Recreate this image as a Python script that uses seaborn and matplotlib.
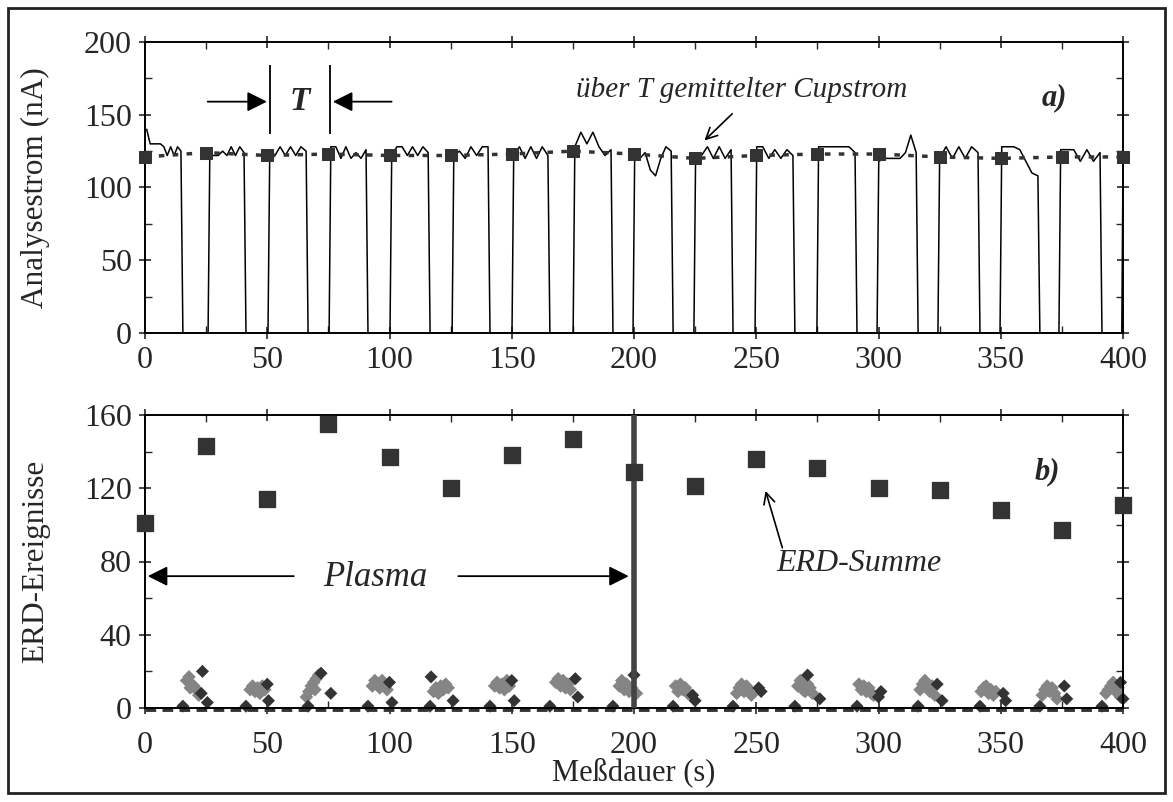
import numpy as np
import pandas as pd
import matplotlib
matplotlib.use('Agg')
import matplotlib.pyplot as plt
from matplotlib.patches import Rectangle
from matplotlib.ticker import MultipleLocator
import seaborn as sns

# --- panel a): cup current, beam on / off every T = 25 s ---
rise_t = [0.0, 25.8, 50.3, 75.3, 100.2, 125.6, 150.1, 175.1, 199.6, 224.5,
          249.5, 274.8, 299.4, 324.3, 349.7, 373.8, 399.5]
fall_t = [15.5, 41.3, 66.7, 91.2, 116.6, 141.1, 165.6, 191.4, 216.0, 240.5,
          265.8, 291.2, 316.2, 341.5, 366.0, 391.4]
plateaus = [
    [140, 130, 130, 130, 130, 128, 122, 128, 122, 128, 125],
    [122, 122, 122, 125, 122, 128, 122, 128, 124],
    [120, 122, 128, 122, 128, 122, 128, 125],
    [128, 128, 120, 128, 120, 124, 120, 126],
    [122, 128, 128, 122, 128, 122, 128, 124],
    [122, 125, 120, 128, 122, 128, 128],
    [122, 128, 120, 128, 120, 128, 122],
    [128, 138, 130, 138, 128, 122, 126],
    [126, 120, 124, 112, 108, 120, 128, 125],
    [122, 122, 128, 120, 128, 120, 126],
    [128, 128, 120, 126, 120, 126, 122],
    [128, 128, 128, 128, 128, 128, 124],
    [118, 120, 120, 120, 120, 124, 136, 124],
    [120, 128, 120, 128, 120, 128, 124],
    [128, 128, 128, 126, 118, 110, 108],
    [126, 126, 126, 118, 126, 118, 124],
]
avg_t = [0, 25, 50, 75, 100, 125, 150, 175, 200, 225, 250, 275, 300, 325, 350, 375, 400]
avg_cup = [121, 124, 122, 123, 122, 122, 123, 125, 123, 120, 122, 123, 123, 121, 120, 121, 121]

# --- panel b): ERD events ---
erd_sum = [101, 143, 114, 155, 137, 120, 138, 147, 129, 121, 136, 131, 120, 119, 108, 97, 111]
grey_t = [17, 18, 19, 20, 21, 22, 18.5,
          43, 44, 45, 46, 47, 48, 49,
          66, 67, 68, 69, 70, 71, 69.5,
          93, 94, 95, 96, 97, 98, 99,
          118, 119, 120, 121, 122, 123, 124,
          143, 144, 145, 146, 147, 148, 149,
          168, 169, 170, 171, 172, 173, 174,
          194, 195, 196, 197, 198, 199, 201,
          217, 218, 219, 220, 221, 222, 223,
          242, 243, 244, 245, 246, 247, 248,
          267, 268, 269, 270, 271, 272, 273,
          292, 293, 294, 295, 296, 297, 298,
          317, 318, 319, 320, 321, 322, 323,
          342, 343, 344, 345, 346, 347, 348,
          367, 368, 369, 370, 371, 372, 373,
          393, 394, 395, 396, 397, 398, 399]
grey_n = [15, 17, 13, 12, 10, 7, 11,
          10, 12, 9, 11, 8, 12, 10,
          6, 9, 12, 14, 16, 18, 10,
          12, 15, 13, 11, 15, 12, 10,
          9, 11, 8, 12, 10, 13, 11,
          12, 14, 11, 13, 10, 15, 12,
          14, 16, 12, 15, 11, 13, 10,
          12, 15, 10, 13, 9, 11, 8,
          12, 9, 13, 10, 11, 8, 7,
          8, 11, 13, 9, 12, 10, 7,
          12, 15, 10, 9, 13, 11, 8,
          13, 10, 12, 9, 11, 8, 7,
          10, 13, 15, 11, 9, 12, 7,
          9, 11, 12, 8, 10, 7, 9,
          7, 10, 12, 9, 11, 8, 5,
          8, 10, 12, 14, 9, 11, 6]
dark_t = [23.5, 23, 25.5, 50, 50.5, 72, 76, 100, 101, 117, 126, 150, 151,
          176, 177, 200, 224, 225, 251, 252, 271, 276, 301, 300, 324, 326,
          351, 352, 376, 377, 399, 400]
dark_n = [20, 8, 3, 13, 4, 19, 8, 14, 3, 17, 4, 15, 4,
          16, 6, 18, 7, 4, 11, 9, 18, 5, 9, 6, 13, 4,
          8, 4, 12, 5, 14, 5]
zero_n = [1] * len(fall_t)

# build the cup current trace from the on/off edges and plateau readings
trace_t, trace_i = [], []
for k, lev in enumerate(plateaus):
    r, f = rise_t[k], fall_t[k]
    if k > 0:
        trace_t.append(r)
        trace_i.append(0)
    trace_t += list(np.linspace(r + 0.7, f - 0.8, len(lev)))
    trace_i += lev
    trace_t.append(f)
    trace_i.append(0)
trace_t += [rise_t[-1], 400]
trace_i += [0, 118]
trace = pd.DataFrame({'t': trace_t, 'I': trace_i})

sns.set_style('ticks')
plt.rcParams['font.family'] = ['Liberation Serif', 'DejaVu Serif']
plt.rcParams['mathtext.fontset'] = 'stix'

fig = plt.figure(figsize=(11.73, 8.02), dpi=100)
ax1 = fig.add_axes([145 / 1173, 1 - 333 / 802, 978 / 1173, 291 / 802])
ax2 = fig.add_axes([145 / 1173, 1 - 708 / 802, 978 / 1173, 293 / 802])

dark = '#333333'

# panel a
sns.lineplot(data=trace, x='t', y='I', ax=ax1, color='black', lw=1.1,
             sort=False, estimator=None)
sns.lineplot(x=avg_t, y=avg_cup, ax=ax1, color=dark, lw=2.5,
             linestyle=(0, (1.6, 2.4)), marker='s', markersize=9,
             markeredgecolor=dark, clip_on=False, zorder=5)
ax1.set_xlim(0, 400)
ax1.set_ylim(0, 200)
ax1.yaxis.set_major_locator(MultipleLocator(50))
ax1.yaxis.set_minor_locator(MultipleLocator(25))
ax1.set_ylabel('Analysestrom (nA)', fontsize=22.5)
ax1.yaxis.set_label_coords(-0.097, 0.5)
ax1.set_xlabel('')

ax1.vlines([51, 75.7], 137, 184, color='black', lw=1.3)
ax1.annotate('', xy=(51, 159), xytext=(24.5, 159),
             arrowprops=dict(arrowstyle='-|>', color='black', lw=1.3, mutation_scale=30))
ax1.annotate('', xy=(75.7, 159), xytext=(102, 159),
             arrowprops=dict(arrowstyle='-|>', color='black', lw=1.3, mutation_scale=30))
ax1.text(63.4, 159, 'T', style='italic', weight='bold', fontsize=24,
         ha='center', va='center')
ax1.text(244, 167, 'über T gemittelter Cupstrom', style='italic', fontsize=21,
         ha='center', va='center')
ax1.annotate('', xy=(228, 131), xytext=(241, 152),
             arrowprops=dict(arrowstyle='->', color='black', lw=1.2, mutation_scale=20))
ax1.text(372, 162, 'a)', style='italic', weight='bold', fontsize=22,
         ha='center', va='center')

# panel b
sns.scatterplot(x=grey_t, y=grey_n, ax=ax2, color='#858585', marker='D', s=48,
                edgecolor='none', clip_on=False)
sns.scatterplot(x=dark_t, y=dark_n, ax=ax2, color=dark, marker='D', s=44,
                edgecolor='none', clip_on=False)
sns.scatterplot(x=fall_t, y=zero_n, ax=ax2, color=dark, marker='D', s=44,
                edgecolor='none', clip_on=False)
ax2.axhline(-0.5, color=dark, lw=3.5, linestyle=(0, (2.2, 1.3)), clip_on=False, zorder=1)
sns.scatterplot(x=avg_t, y=erd_sum, ax=ax2, color=dark, marker='s', s=140,
                edgecolor=dark, clip_on=False, zorder=5)
ax2.axvline(200, color='#444444', lw=4, zorder=4)
ax2.set_xlim(0, 400)
ax2.set_ylim(0, 160)
ax2.yaxis.set_major_locator(MultipleLocator(40))
ax2.yaxis.set_minor_locator(MultipleLocator(20))
ax2.set_ylabel('ERD-Ereignisse', fontsize=22.5)
ax2.yaxis.set_label_coords(-0.097, 0.5)
ax2.set_xlabel('Meßdauer (s)', fontsize=22)
ax2.xaxis.set_label_coords(0.5, -0.17)

ax2.text(94, 71, 'Plasma', style='italic', fontsize=25, ha='center', va='center')
ax2.annotate('', xy=(0, 72), xytext=(62, 72),
             arrowprops=dict(arrowstyle='-|>', color='black', lw=1.3, mutation_scale=30))
ax2.annotate('', xy=(199, 72), xytext=(127, 72),
             arrowprops=dict(arrowstyle='-|>', color='black', lw=1.3, mutation_scale=30))
ax2.text(292, 79, 'ERD-Summe', style='italic', fontsize=23, ha='center', va='center')
ax2.annotate('', xy=(253.5, 120), xytext=(261, 86),
             arrowprops=dict(arrowstyle='->', color='black', lw=1.2, mutation_scale=20))
ax2.text(369, 129, 'b)', style='italic', weight='bold', fontsize=22,
         ha='center', va='center')

for ax in (ax1, ax2):
    ax.xaxis.set_major_locator(MultipleLocator(50))
    ax.xaxis.set_minor_locator(MultipleLocator(25))
    ax.tick_params(which='major', direction='inout', length=9, width=1.2,
                   labelsize=23, top=True, right=True, pad=5)
    ax.tick_params(which='minor', direction='in', length=5, width=1.0,
                   top=True, right=True)
    for sp in ax.spines.values():
        sp.set_linewidth(1.4)
        sp.set_color('black')
ax2.tick_params(axis='x', which='major', pad=12)

fig.add_artist(Rectangle((8 / 1173, 1 - 793 / 802), 1157 / 1173, 785 / 802,
                         transform=fig.transFigure, fill=False, lw=2, color='#222222'))

fig.savefig('out.png', dpi=100)
